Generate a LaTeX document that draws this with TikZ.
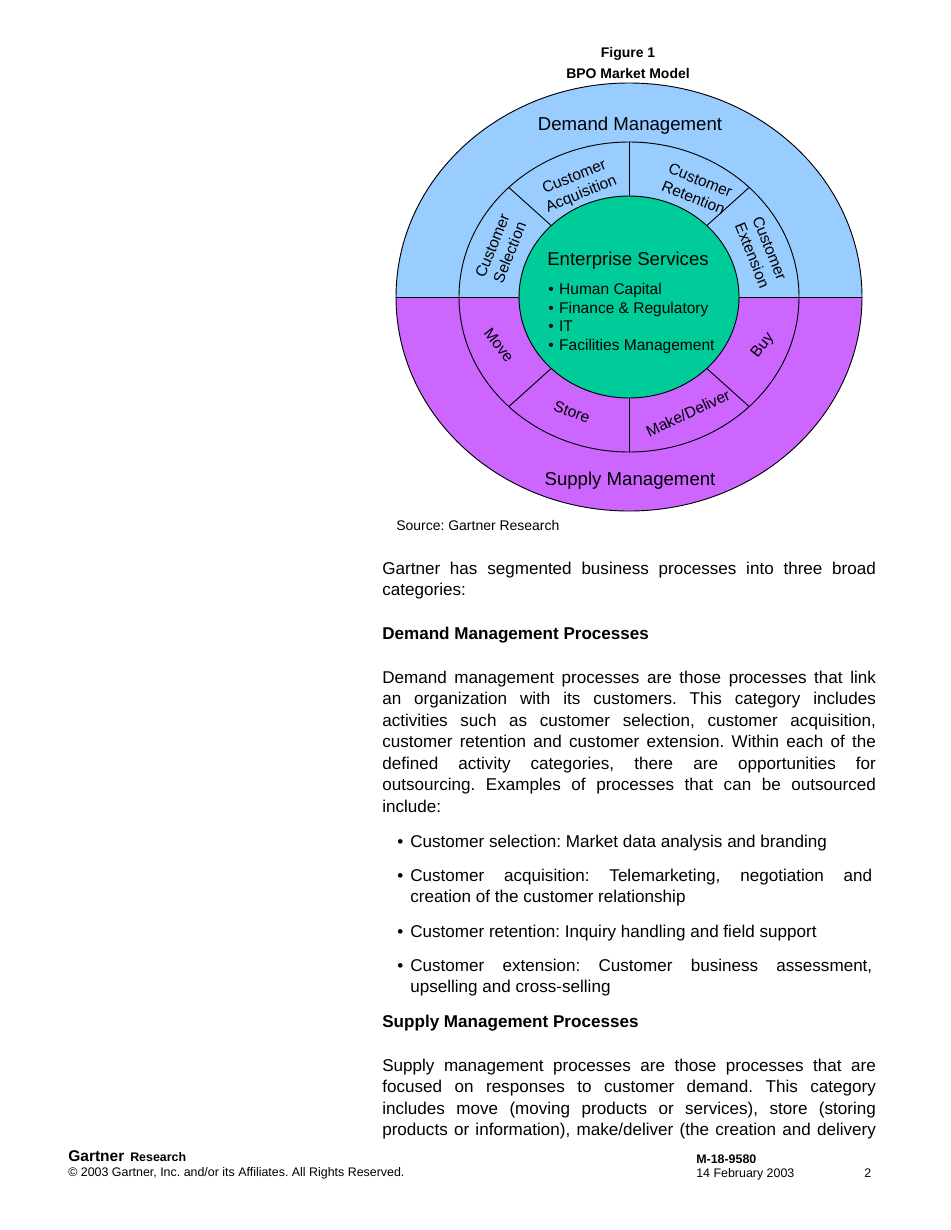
\documentclass[tikz,border=0pt]{standalone}
\usepackage{fontspec}
\setmainfont{Liberation Sans}
\usetikzlibrary{calc}
\definecolor{demandblue}{HTML}{99CCFF}
\definecolor{supplypurple}{HTML}{CC66FF}
\definecolor{entgreen}{HTML}{00CC99}
\frenchspacing
\hyphenpenalty=10000
\exhyphenpenalty=10000
\begin{document}
\begin{tikzpicture}[x=0.6442pt,y=-0.6442pt,line join=round,line cap=round]
	\tikzset{every node/.style={inner sep=0pt},
		seg/.style={font=\fontsize{10}{12}\selectfont,align=center},
		ring/.style={font=\fontsize{12}{14}\selectfont},
		body/.style={font=\fontsize{11}{13.85}\selectfont,anchor=north west,text width=318pt,align=justify},
		item/.style={body,text width=297.6pt},
		head/.style={font=\fontsize{11}{13.85}\selectfont\bfseries,anchor=base west},
		small/.style={font=\fontsize{8}{10}\selectfont,anchor=base west}}
	\newcommand\itembullet{\leavevmode\llap{\textbullet\hspace{4.5pt}}}
	\useasboundingbox (0,0) rectangle (950,1230);
	\fill[white] (0,0) rectangle (950,1230);
	% title
	\node[font=\fontsize{9}{11}\selectfont\bfseries] (fig) at (628,53.5) {Figure 1};
	\node[font=\fontsize{9}{11}\selectfont\bfseries] (figtitle) at (628,73.5) {BPO Market Model};
	% rings
	\coordinate (c) at (629,297);
	\fill[supplypurple] (c) ellipse [x radius=233,y radius=214];
	\begin{scope}
		\clip (390,70) rectangle (870,297);
		\fill[demandblue] (c) ellipse [x radius=233,y radius=214];
	\end{scope}
	\begin{scope}[line width=0.6pt]
		\draw (c) ellipse [x radius=233,y radius=214];
		\draw (c) ellipse [x radius=170,y radius=155];
		\draw (396,297)--(862,297);
		\foreach \a in {45,90,135,225,270,315}
			\draw ($(c)+(\a:110 and 101)$)--($(c)+(\a:170 and 155)$);
		\filldraw[fill=entgreen] (c) ellipse [x radius=110,y radius=101];
	\end{scope}
	\path
	(630,126)node[ring](demand){Demand Management}
	(630,481)node[ring](supply){Supply Management}
	(628,261)node[ring](ent){Enterprise Services}
	(548,318.5)node[anchor=west,align=left,font=\fontsize{10}{11.9}\selectfont](entlist){\textbullet\hspace{3.5pt}Human Capital\\\textbullet\hspace{3.5pt}Finance \& Regulatory\\\textbullet\hspace{3.5pt}IT\\\textbullet\hspace{3.5pt}Facilities Management}
	;
	% segments
	\path
	(578,186)node[seg,rotate=22](acq){Customer\\Acquisition}
	(697,189)node[seg,rotate=-22](ret){Customer\\Retention}
	(501,249)node[seg,rotate=68](sel){Customer\\Selection}
	(761,252)node[seg,rotate=-68](ext){Customer\\Extension}
	(499,345)node[seg,rotate=-52](move){Move}
	(572,412)node[seg,rotate=-20](store){Store}
	(688,413)node[seg,rotate=25](make){Make/Deliver}
	(763,346)node[seg,rotate=52](buy){Buy}
	;
	\node[font=\fontsize{9}{11}\selectfont,anchor=base west] (src) at (396,530) {Source: Gartner Research};
	% text
	\node[body] (intro) at (382,561.6) {Gartner has segmented business processes into three broad\linebreak categories:};
	\node[head] (dhead) at (382,639) {Demand Management Processes};
	\node[body] (dtext) at (382,670.6) {Demand management processes are those processes that link\linebreak an organization with its customers. This category includes\linebreak activities such as customer selection, customer acquisition,\linebreak customer retention and customer extension. Within each of the\linebreak defined activity categories, there are opportunities for\linebreak outsourcing. Examples of processes that can be outsourced\linebreak include:};
	\node[item] (sel1) at (410,834.6) {\itembullet Customer selection: Market data analysis and branding};
	\node[item] (acq1) at (410,868.6) {\itembullet Customer acquisition: Telemarketing, negotiation and\linebreak creation of the customer relationship};
	\node[item] (ret1) at (410,924.6) {\itembullet Customer retention: Inquiry handling and field support};
	\node[item] (ext1) at (410,958.6) {\itembullet Customer extension: Customer business assessment,\linebreak upselling and cross-selling};
	\node[head] (shead) at (382,1027) {Supply Management Processes};
	\node[body] (stext) at (382,1058.6) {\parfillskip=0pt Supply management processes are those processes that are\linebreak focused on responses to customer demand. This category\linebreak includes move (moving products or services), store (storing\linebreak products or information), make/deliver (the creation and delivery\par};
	% footer
	\node[font=\fontsize{10}{12}\selectfont\bfseries,anchor=base west] (logo) at (68,1161) {Gartner\hspace{1pt} {\fontsize{8}{10}\selectfont Research}};
	\node[small] (copy) at (68,1176) {© 2003 Gartner, Inc. and/or its Affiliates. All Rights Reserved.};
	\node[small,font=\fontsize{8}{10}\selectfont\bfseries] (docid) at (696,1163) {M-18-9580};
	\node[small] (date) at (696,1177) {14 February 2003};
	\node[small] (page) at (864,1177) {2};
\end{tikzpicture}
\end{document}
